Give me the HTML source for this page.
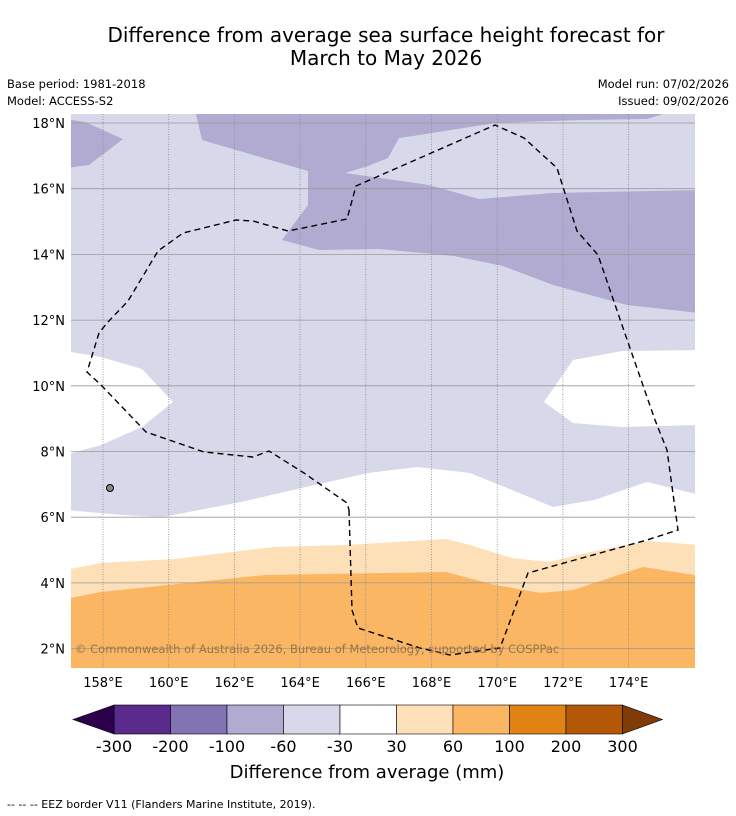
<!DOCTYPE html>
<html><head><meta charset="utf-8"><style>
body{margin:0;background:#fff;font-family:"DejaVu Sans","Liberation Sans",sans-serif;}
#wrap{position:relative;width:736px;height:816px;overflow:hidden;}
svg text{font-family:"DejaVu Sans","Liberation Sans",sans-serif;}
</style></head><body>
<div id="wrap">
<svg id="svg" width="736" height="816" viewBox="0 0 736 816" xmlns="http://www.w3.org/2000/svg">
<text x="386" y="42" font-size="20" text-anchor="middle" fill="#000">Difference from average sea surface height forecast for</text>
<text x="386" y="65" font-size="20" text-anchor="middle" fill="#000">March to May 2026</text>
<text x="7" y="88" font-size="11.5">Base period: 1981-2018</text>
<text x="7" y="105" font-size="11.5">Model: ACCESS-S2</text>
<text x="729" y="88" font-size="11.5" text-anchor="end">Model run: 07/02/2026</text>
<text x="729" y="105" font-size="11.5" text-anchor="end">Issued: 09/02/2026</text>
<defs><clipPath id="mc"><rect x="71" y="114" width="624" height="554"/></clipPath></defs>
<g clip-path="url(#mc)">
<rect x="71" y="114" width="624" height="554" fill="#d8d8eb"/>
<polygon fill="#b1aad1" points="65,119 85,122 123,139 89,165 65,168"/>
<polygon fill="#b1aad1" points="195,110 700,110 663,114 647,119 581,120 495,123 413,136 399,138 388,158 368,166 345,173 429,185 479,199 553,193 700,190 700,313 627,305 553,285 503,266 454,256 380,249 319,250 282,240 308,205 308,171 202,140"/>
<polygon fill="#fff" points="65,351 101,357 142,369 173,402 142,427 101,445 65,455"/>
<polygon fill="#fff" points="700,350 622,351 573,360 544,402 573,423 622,427 700,425"/>
<polygon fill="#fff" points="65,510 122,515 163,517 241,502 306,487 368,473 417,467 470,473 512,490 553,507 594,500 647,482 700,495 700,680 65,680"/>
<polygon fill="#fde0b7" points="65,570 101,563 175,559 273,547 347,545 446,539 470,545 512,558 549,562 586,553 647,541 700,545 700,680 65,680"/>
<polygon fill="#fbb663" points="65,599 101,592 265,575 446,572 491,584 540,593 573,590 643,567 694,575 700,577 700,680 65,680"/>
<g stroke="#888" stroke-width="0.8" stroke-dasharray="1,1.5" id="vgrid"></g>
<g stroke="#999" stroke-width="0.8" id="hgrid"></g>
<polygon fill="none" stroke="#000" stroke-width="1.4" stroke-dasharray="6,4" points="349,510 352,610 358,628 420,648 450,655 500,648 528,573 647,540 678,530 667,450 655,420 622,325 598,255 577,231 557,168 524,138 495,125 356,186 347,219 288,231 253,221 236,220 183,233 158,251 128,301 107,323 99,333 87,372 101,385 146,432 204,452 253,457 269,451 304,473 347,503"/>
<circle cx="110" cy="488" r="3.5" fill="#888" stroke="#000"/>
<text x="75" y="653" font-size="11.5" fill="#8a6a40" fill-opacity="0.85">© Commonwealth of Australia 2026, Bureau of Meteorology, supported by COSPPac</text>
</g>
<g id="axes"></g>
<g id="cbar"></g>
<text x="367" y="778" font-size="18" text-anchor="middle">Difference from average (mm)</text>
<text x="7" y="808" font-size="11">--  --  -- EEZ border V11 (Flanders Marine Institute, 2019).</text>
</svg>
</div>
<script>
const lonTicks=[158,160,162,164,166,168,170,172,174];
const latTicks=[18,16,14,12,10,8,6,4,2];
const cbarLabels=["-300","-200","-100","-60","-30","30","60","100","200","300"];
const cbarColors=["#5a2a8c","#8273b3","#b1aad1","#d8d8eb","#ffffff","#fde0b7","#fbb663","#e08214","#b35806"];
const cbarLow="#2d004b", cbarHigh="#7f3b08";
const NS="http://www.w3.org/2000/svg";
function xLon(l){return 103+(l-158)*32.85;}
function yLat(l){return 123+(18-l)*32.85;}
function mk(t,a,p){const e=document.createElementNS(NS,t);for(const k in a)e.setAttribute(k,a[k]);p.appendChild(e);return e;}
const vg=document.getElementById('vgrid'),hg=document.getElementById('hgrid'),ax=document.getElementById('axes'),cb=document.getElementById('cbar');
lonTicks.forEach(l=>{
 const ln=mk('line',{x1:xLon(l),x2:xLon(l),y1:114,y2:668},vg);
 
 
 const t=mk('text',{x:xLon(l),y:687,'font-size':13,'text-anchor':'middle'},ax);t.textContent=l+'°E';
 
 
});
latTicks.forEach(l=>{
 const ln=mk('line',{x1:71,x2:695,y1:yLat(l),y2:yLat(l)},hg);
 
 
 const t=mk('text',{x:65,y:yLat(l)+5,'font-size':13,'text-anchor':'end'},ax);t.textContent=l+'°N';
 
 
});
const cx0=114,cw=56.5,cy=705,ch=29;
cbarColors.forEach((c,i)=>{
 const r=mk('rect',{x:cx0+i*cw,y:cy,width:cw,height:ch,fill:c,stroke:'#000','stroke-width':0.6},cb);
 
 
});
const xe=cx0+cbarColors.length*cw;
const tl=mk('polygon',{points:`${cx0},${cy} 73,${cy+ch/2} ${cx0},${cy+ch}`,fill:cbarLow,stroke:'#000','stroke-width':0.6},cb);


const th=mk('polygon',{points:`${xe},${cy} ${xe+40},${cy+ch/2} ${xe},${cy+ch}`,fill:cbarHigh,stroke:'#000','stroke-width':0.6},cb);


cbarLabels.forEach((s,i)=>{
 const t=mk('text',{x:cx0+i*cw,y:752,'font-size':16,'text-anchor':'middle'},cb);t.textContent=s;
 
 
});
</script>
</body></html>
